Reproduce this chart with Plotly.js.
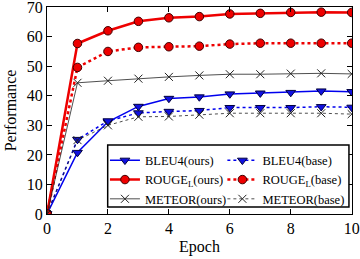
<!DOCTYPE html>
<html>
<head>
<meta charset="utf-8">
<script src="https://cdn.plot.ly/plotly-3.0.1.min.js"></script>
<style>html,body{margin:0;padding:0;background:#fff;}#chart{width:360px;height:259px;}</style>
</head>
<body>
<div id="chart"></div>
<script>
const epochs = [0,1,2,3,4,5,6,7,8,9,10];
const bleuOurs   = [0,20.8,31.2,36.4,39.1,39.6,40.6,40.9,41.1,41.6,41.4];
const bleuBase   = [0,25.2,31.5,34.2,34.7,35.0,36.0,36.0,36.0,36.3,36.1];
const rougeOurs  = [0,57.7,62.0,65.2,66.4,66.8,67.7,67.9,68.2,68.3,68.2];
const rougeBase  = [0,49.6,55.0,56.4,56.6,56.8,57.5,57.8,57.8,57.8,57.8];
const meteorOurs = [0,44.4,45.1,45.8,46.4,46.9,47.3,47.3,47.5,47.6,47.4];
const meteorBase = [0,25.0,30.0,32.9,33.0,33.6,34.1,34.1,34.1,34.1,33.8];
const names = ['BLEU4(ours)','BLEU4(base)','ROUGE<sub>L</sub>(ours)','ROUGE<sub>L</sub>(base)','METEOR(ours)','METEOR(base)'];

const tri = {symbol:'triangle-down', size:8.5, color:'#1010e0', line:{color:'#000040', width:1}};
const circ = {symbol:'circle', size:8.5, color:'#ee0000', line:{color:'#400000', width:1}};
const ex = {symbol:'x-thin', size:8, color:'#000', line:{color:'#222', width:1}};

const traces = [
  {x:epochs, y:bleuOurs, name:names[0], legend:'legend', mode:'lines+markers', line:{color:'#0000ee', width:1.5}, marker:tri},
  {x:epochs, y:bleuBase, name:names[1], legend:'legend2', mode:'lines+markers', line:{color:'#0000ee', width:1.5, dash:'dot'}, marker:tri},
  {x:epochs, y:rougeOurs, name:names[2], legend:'legend', mode:'lines+markers', line:{color:'#ee0000', width:2.5}, marker:circ},
  {x:epochs, y:rougeBase, name:names[3], legend:'legend2', mode:'lines+markers', line:{color:'#ee0000', width:2.5, dash:'dot'}, marker:circ},
  {x:epochs, y:meteorOurs, name:names[4], legend:'legend', mode:'lines+markers', line:{color:'#222', width:0.8}, marker:ex},
  {x:epochs, y:meteorBase, name:names[5], legend:'legend2', mode:'lines+markers', line:{color:'#222', width:0.8, dash:'dot'}, marker:ex}
];

const font = {family:'Liberation Serif, Times New Roman, serif', color:'#000'};
const legBase = {orientation:'v', xanchor:'left', yanchor:'top', y:0.33,
                 bgcolor:'rgba(0,0,0,0)', borderwidth:0, font:{size:12.5}, itemwidth:30, tracegroupgap:0};
const layout = {
  width:360, height:259,
  margin:{l:47, r:8, t:7, b:45},
  paper_bgcolor:'#fff', plot_bgcolor:'#fff',
  font:Object.assign({size:14}, font),
  showlegend:true,
  xaxis:{range:[0,10.01], tickvals:[0,2,4,6,8,10], ticks:'inside', ticklen:5, tickcolor:'#000',
         showline:true, linecolor:'#000', linewidth:1, mirror:'ticks', showgrid:false, zeroline:false,
         ticklabeloverflow:'allow', tickfont:{size:16}, title:{text:'Epoch', font:{size:16}, standoff:4}},
  yaxis:{range:[0,70.05], tickvals:[0,10,20,30,40,50,60,70], ticks:'inside', ticklen:5, tickcolor:'#000',
         showline:true, linecolor:'#000', linewidth:1, mirror:'ticks', showgrid:false, zeroline:false,
         ticklabeloverflow:'allow', tickfont:{size:16}, title:{text:'Performance', font:{size:16}, standoff:6}},
  legend:Object.assign({x:0.19}, legBase),
  legend2:Object.assign({x:0.575}, legBase),
  shapes:[{type:'rect', xref:'paper', yref:'paper', x0:0.199, x1:0.99, y0:0.034, y1:0.333,
           fillcolor:'#fff', line:{color:'#000', width:1.5}, layer:'above'}]
};
Plotly.newPlot('chart', traces, layout, {staticPlot:true, displayModeBar:false});
</script>
</body>
</html>
